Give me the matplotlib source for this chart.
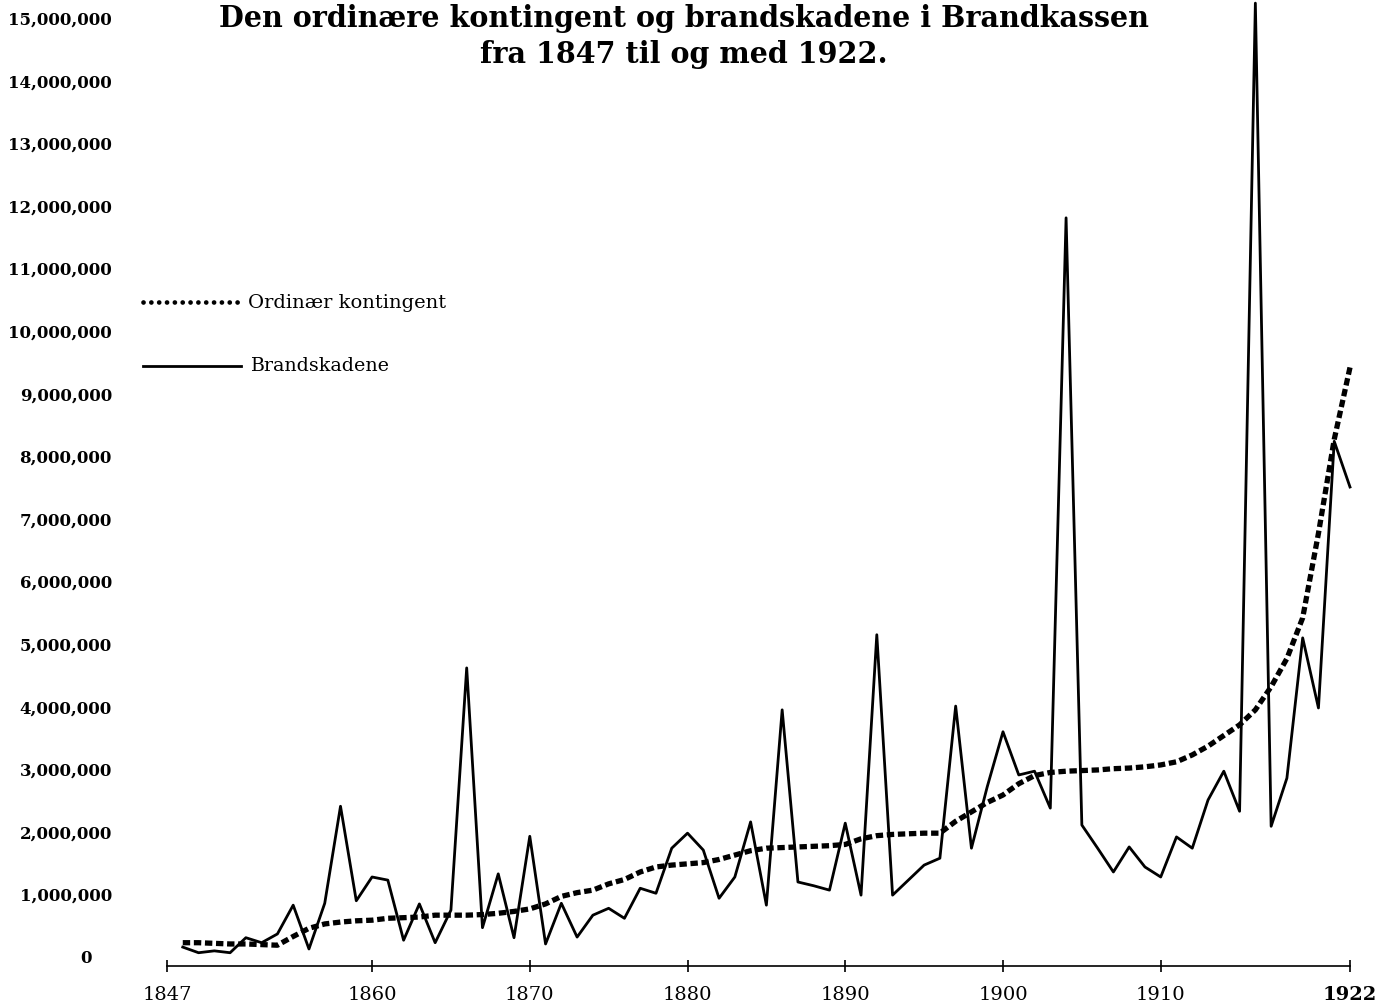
import matplotlib
matplotlib.use('Agg')
import matplotlib.pyplot as plt
from matplotlib.lines import Line2D

# years as drawn on the sheet (first drawn point sits at the "1847" mark)
years = list(range(1848, 1923))

# Brandskadene (fire losses), kroner
brand = [0.19, 0.10, 0.13, 0.10, 0.34, 0.26, 0.40, 0.86, 0.16, 0.89,   # 1848-1857
         2.44, 0.93, 1.31, 1.26, 0.30, 0.88, 0.26, 0.78, 4.65, 0.50,   # 1858-1867
         1.36, 0.34, 1.96, 0.24, 0.89, 0.35, 0.70, 0.81, 0.65, 1.13,   # 1868-1877
         1.05, 1.77, 2.01, 1.74, 0.97, 1.31, 2.19, 0.86, 3.98, 1.23,   # 1878-1887
         1.17, 1.10, 2.17, 1.02, 5.18, 1.02, 1.26, 1.50, 1.61, 4.04,   # 1888-1897
         1.77, 2.75, 3.63, 2.94, 3.00, 2.41, 11.84, 2.14, 1.77, 1.39,  # 1898-1907
         1.79, 1.47, 1.31, 1.95, 1.77, 2.54, 3.00, 2.36, 15.27, 2.12,  # 1908-1917
         2.89, 5.13, 4.01, 8.27, 7.54]                                 # 1918-1922
brand = [v * 1e6 for v in brand]

# Ordinær kontingent (ordinary premium), kroner
kontingent = [0.26, 0.26, 0.25, 0.24, 0.24, 0.23, 0.22, 0.36, 0.49, 0.56,  # 1848-1857
              0.59, 0.61, 0.62, 0.65, 0.66, 0.67, 0.70, 0.70, 0.70, 0.71,  # 1858-1867
              0.73, 0.76, 0.80, 0.88, 1.00, 1.06, 1.10, 1.20, 1.27, 1.39,  # 1868-1877
              1.47, 1.50, 1.52, 1.54, 1.59, 1.66, 1.73, 1.77, 1.78, 1.79,  # 1878-1887
              1.80, 1.81, 1.83, 1.92, 1.97, 1.99, 2.00, 2.01, 2.01, 2.20,  # 1888-1897
              2.35, 2.50, 2.62, 2.80, 2.93, 2.98, 3.00, 3.01, 3.02, 3.04,  # 1898-1907
              3.05, 3.07, 3.10, 3.15, 3.26, 3.40, 3.57, 3.74, 3.98, 4.35,  # 1908-1917
              4.80, 5.45, 6.80, 8.30, 9.45]                                # 1918-1922
kontingent = [v * 1e6 for v in kontingent]

x_ticks = [1847, 1860, 1870, 1880, 1890, 1900, 1910, 1922]
y_ticks = list(range(0, 16000001, 1000000))

title = "Den ordinære kontingent og brandskadene i Brandkassen\nfra 1847 til og med 1922."
legend_labels = ["Ordinær kontingent", "Brandskadene"]

W, H = 1375, 1008
fig = plt.figure(figsize=(W / 100, H / 100), dpi=100)
ax = fig.add_axes([167 / W, 42 / H, (1350 - 167) / W, 966 / H])
ax.set_xlim(1847, 1922)
ax.set_ylim(-0.112e6, 15.32e6)

ax.plot(years, brand, color='black', lw=2.0, solid_joinstyle='round', clip_on=False, zorder=3)
ax.plot(years, kontingent, color='black', lw=3.8, dashes=(1.4, 0.7),
        dash_capstyle='butt', clip_on=False, zorder=2)

for s in ['top', 'right', 'left']:
    ax.spines[s].set_visible(False)
ax.spines['bottom'].set_linewidth(1.2)

ax.set_xticks(x_ticks)
ax.set_xticklabels([str(t) for t in x_ticks], fontfamily='DejaVu Serif', fontsize=14)
ax.get_xticklabels()[-1].set_fontweight('bold')
ax.tick_params(axis='x', direction='inout', length=9, width=1.2, pad=10)
ax.set_yticks([])

# y labels (serif bold, right aligned; the 0 sits a little further in)
for v in y_ticks:
    if v > 15.3e6:
        continue
    off = -39.6 if v else -54
    ax.annotate(f"{v:,}", xy=(0, v), xycoords=('axes fraction', 'data'),
                xytext=(off, 0), textcoords='offset points', ha='right', va='center',
                fontfamily='DejaVu Serif', fontweight='bold', fontsize=12, annotation_clip=False)

fig.text(684 / W, 1 - 4 / H, title, ha='center', va='top', fontfamily='DejaVu Serif',
         fontweight='bold', fontsize=20.6, linespacing=1.32)

# hand made legend
fig.add_artist(Line2D([143 / W, 241 / W], [1 - 302 / H] * 2, color='black', lw=3.4,
                      linestyle=(0, (0.01, 1.65)), dash_capstyle='round'))
fig.add_artist(Line2D([143 / W, 241 / W], [1 - 366 / H] * 2, color='black', lw=2.0))
fig.text(248 / W, 1 - 303 / H, legend_labels[0], ha='left', va='center',
         fontfamily='DejaVu Serif', fontsize=14)
fig.text(250 / W, 1 - 366 / H, legend_labels[1], ha='left', va='center',
         fontfamily='DejaVu Serif', fontsize=13.7)

fig.savefig('out.png', dpi=100, facecolor='white')
